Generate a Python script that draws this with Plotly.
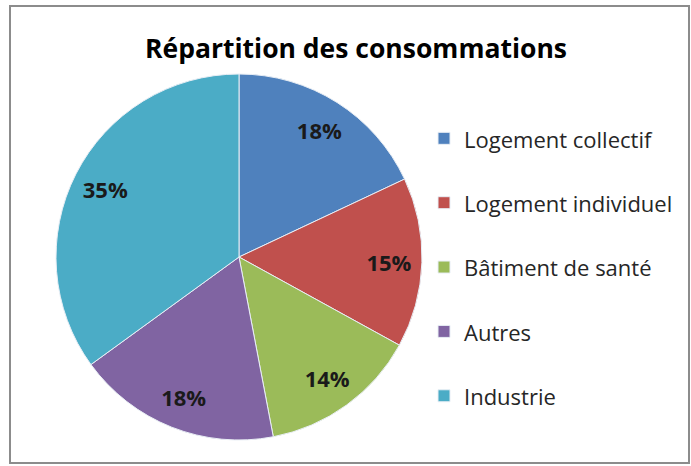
import plotly.graph_objects as go

categories = ["Logement collectif", "Logement individuel", "Bâtiment de santé", "Autres", "Industrie"]
values = [18, 15, 14, 18, 35]
colors = ["#4F81BD", "#C0504D", "#9BBB59", "#8064A2", "#4BACC6"]
title_text = "Répartition des consommations"

W, H = 691, 466
FONT = "Open Sans"
DOMAIN = dict(x=[56 / W, 422 / W], y=[26 / H, 392 / H])

legend_labels = ["<span style='font-size:22px'>%s</span><br> " % c for c in categories]

fig = go.Figure()
# main coloured pie (legend)
fig.add_trace(go.Pie(
    labels=legend_labels,
    values=values,
    sort=False,
    direction="clockwise",
    rotation=0,
    marker=dict(colors=colors, line=dict(color="#e8eef5", width=1)),
    textinfo="none",
    domain=DOMAIN,
    hoverinfo="label+percent",
))
# transparent ring carrying the percentage labels near the rim
fig.add_trace(go.Pie(
    labels=categories,
    values=values,
    sort=False,
    direction="clockwise",
    rotation=0,
    hole=0.64,
    marker=dict(colors=["rgba(0,0,0,0)"] * len(values), line=dict(width=0)),
    texttemplate="<b>%{percent:.0%}</b>",
    textposition="inside",
    insidetextorientation="horizontal",
    textfont=dict(family=FONT, size=22, color="#1a1a1a"),
    domain=DOMAIN,
    showlegend=False,
    hoverinfo="skip",
))

fig.update_layout(
    width=W, height=H,
    margin=dict(l=0, r=0, t=0, b=0),
    paper_bgcolor="white",
    plot_bgcolor="white",
    font=dict(family=FONT, color="#262626"),
    title=dict(text="<b>%s</b>" % title_text, x=356 / W, xanchor="center",
               y=1 - 49 / H, yanchor="middle",
               font=dict(family=FONT, size=26.5, color="#000000")),
    showlegend=True,
    legend=dict(x=424 / W, xanchor="left", y=1 - 116.5 / H, yanchor="top",
                valign="top", font=dict(family=FONT, size=23.6, color="#262626"),
                bgcolor="rgba(0,0,0,0)", itemclick=False),
    shapes=[dict(type="rect", xref="paper", yref="paper",
                 x0=10 / W, x1=689 / W, y0=1 - 463 / H, y1=1 - 6 / H,
                 line=dict(color="#8c8c8c", width=2))],
)

fig.write_html("out.html", config={"displayModeBar": False},
               post_script="document.body.style.margin='0';document.body.style.padding='0';")
